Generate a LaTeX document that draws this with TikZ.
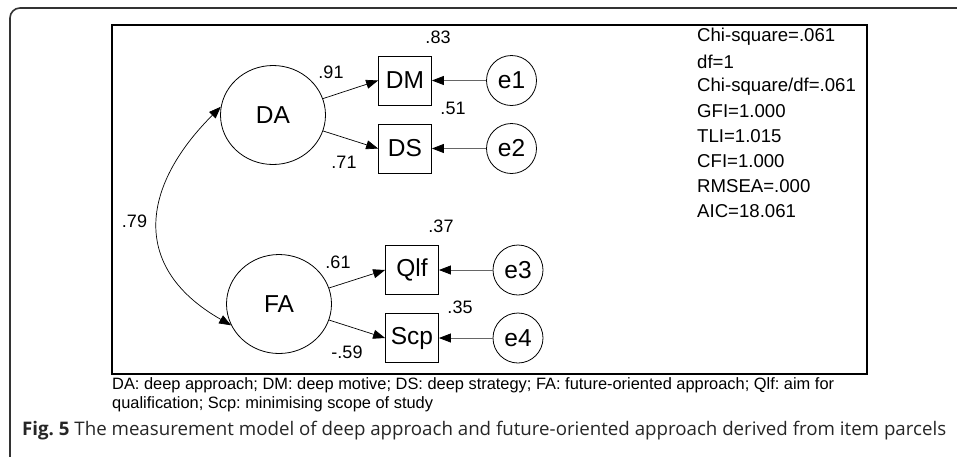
\documentclass[tikz,border=0pt]{standalone}
\usepackage{fontspec}
\setmainfont{Liberation Sans}
\newfontfamily\capfont{Open Sans}
\usetikzlibrary{arrows.meta,shapes.geometric}
\frenchspacing
\tikzset{
  latent/.style={draw,ellipse,line width=0.8pt,minimum width=105pt,minimum height=99pt,inner sep=0pt,font=\fontsize{24.5}{25}\selectfont},
  observed/.style={draw,rectangle,line width=0.8pt,minimum width=53pt,minimum height=49pt,inner sep=0pt,font=\fontsize{24.5}{25}\selectfont},
  errc/.style={draw,circle,line width=0.8pt,minimum size=50pt,inner sep=0pt,font=\fontsize{24.5}{25}\selectfont},
  num/.style={inner sep=0pt,font=\fontsize{18}{18}\selectfont},
  stat/.style={inner sep=0pt,anchor=west,font=\fontsize{18.6}{19}\selectfont},
  tip/.style={-{Triangle[length=12pt,width=9pt,black]}},
  load/.style={tip,line width=0.7pt,black},
  errarr/.style={tip,line width=0.8pt,black!60},
  legend/.style={anchor=base west,inner sep=0pt,font=\fontsize{16.4}{17}\selectfont},
}
\begin{document}
\begin{tikzpicture}[x=1pt,y=-1pt]
\useasboundingbox (0,0) rectangle (957,456);
% outer frame
\draw[line width=1.6pt,black!80,rounded corners=10pt] (10,458) -- (10,8) -- (959,8);
% inner box
\draw[line width=1.1pt] (112,25) rectangle (867,374);
% latent variables
\node[latent] (DA) at (273,115) {DA};
\node[latent] (FA) at (279,304) {FA};
% observed
\node[observed] (DM) at (405,80.5) {DM};
\node[observed] (DS) at (405,148.5) {DS};
\node[observed] (Qlf) at (412,270) {Qlf};
\node[observed] (Scp) at (412,338) {Scp};
% errors
\node[errc] (e1) at (511.5,80.5) {e1};
\node[errc] (e2) at (511.5,148.5) {e2};
\node[errc] (e3) at (518,270) {e3};
\node[errc] (e4) at (518,338) {e4};
% loadings
\draw[load] (DA) -- (DM.west);
\draw[load] (DA) -- (DS.west);
\draw[load] (FA) -- (Qlf.west);
\draw[load] (FA) -- (Scp.west);
% error arrows
\draw[errarr] (e1) -- (DM);
\draw[errarr] (e2) -- (DS);
\draw[errarr] (e3) -- (Qlf);
\draw[errarr] (e4) -- (Scp);
% covariance
\draw[line width=0.7pt,{Triangle[length=12pt,width=9pt]}-{Triangle[length=12pt,width=9pt]}] (DA.171) .. controls +(-81,81) and +(-100,-57) .. (FA.204);
% numbers
\node[num] (n83) at (438,37.5) {.83};
\node[num] (n91) at (331,72) {.91};
\node[num] (n51) at (453,108) {.51};
\node[num] (n71) at (344,162) {.71};
\node[num] (n79) at (134.5,221.5) {.79};
\node[num] (n37) at (441,226) {.37};
\node[num] (n61) at (338,262) {.61};
\node[num] (n35) at (460,307) {.35};
\node[num] (n59) at (347,352) {-.59};
% fit statistics
\node[stat] (s1) at (697,37) {Chi-square=.061};
\node[stat] (s2) at (697,61.85) {df=1};
\node[stat] (s3) at (697,86.7) {Chi-square/df=.061};
\node[stat] (s4) at (697,111.55) {GFI=1.000};
\node[stat] (s5) at (697,136.4) {TLI=1.015};
\node[stat] (s6) at (697,161.25) {CFI=1.000};
\node[stat] (s7) at (697,186.1) {RMSEA=.000};
\node[stat] (s8) at (697,210.95) {AIC=18.061};
% legend
\node[legend] (leg1) at (112,389) {DA: deep approach; DM: deep motive; DS: deep strategy; FA: future-oriented approach; Qlf: aim for};
\node[legend] (leg2) at (112,408) {qualification; Scp: minimising scope of study};
% caption
\node[anchor=base west,inner sep=0pt,font=\capfont\fontsize{18.7}{20}\selectfont,text=black!85] (cap) at (22,435) {\textbf{Fig. 5} The measurement model of deep approach and future-oriented approach derived from item parcels};
\end{tikzpicture}
\end{document}
